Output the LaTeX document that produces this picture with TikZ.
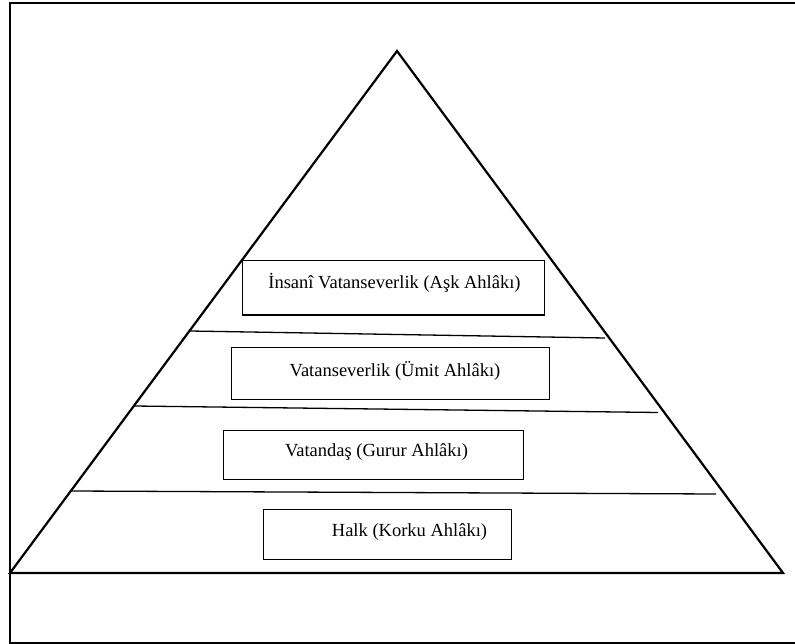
\documentclass[tikz,border=0pt]{standalone}
\usepackage{fontspec}
\setmainfont{Liberation Serif}
\begin{document}
\begin{tikzpicture}[x=1pt,y=-1pt,
  frame/.style={line width=2pt,line cap=rect},
  pyramid/.style={line width=2.2pt,line join=miter},
  divider/.style={line width=1.3pt},
  levelbox/.style={draw,line width=1pt,rectangle,inner sep=0pt},
  leveltext/.style={font=\fontsize{18.5}{21}\selectfont,inner sep=0pt}]
\useasboundingbox (0,0) rectangle (795,644);

% open frame: top, left and bottom sides only
\draw[frame] (795,3) -- (10,3) -- (10,642.5) -- (795,642.5);

% pyramid outline
\coordinate (apex) at (397,51);
\coordinate (bl) at (10,573);
\coordinate (br) at (783,573);
\draw[pyramid] (bl) -- (apex) -- (br) -- cycle;

% dividing lines between the levels
\draw[divider] (190,331) -- (605,338);
\draw[divider] (134,406) -- (658,412.5);
\draw[divider] (72,491) -- (716,494);

% level boxes
\node[levelbox,minimum width=302,minimum height=54] (b1) at (393,288) {};
\node[levelbox,minimum width=318,minimum height=52] (b2) at (390,373) {};
\node[levelbox,minimum width=300,minimum height=49] (b3) at (373,454.5) {};
\node[levelbox,minimum width=248,minimum height=50] (b4) at (387,534) {};

% level labels
\node[leveltext] (t1) at (394.5,283) {İnsanî Vatanseverlik (Aşk Ahlâkı)};
\node[leveltext] (t2) at (395,371) {Vatanseverlik (Ümit Ahlâkı)};
\node[leveltext] (t3) at (376.5,452) {Vatandaş (Gurur Ahlâkı)};
\node[leveltext] (t4) at (409.5,532) {Halk (Korku Ahlâkı)};
\end{tikzpicture}
\end{document}
